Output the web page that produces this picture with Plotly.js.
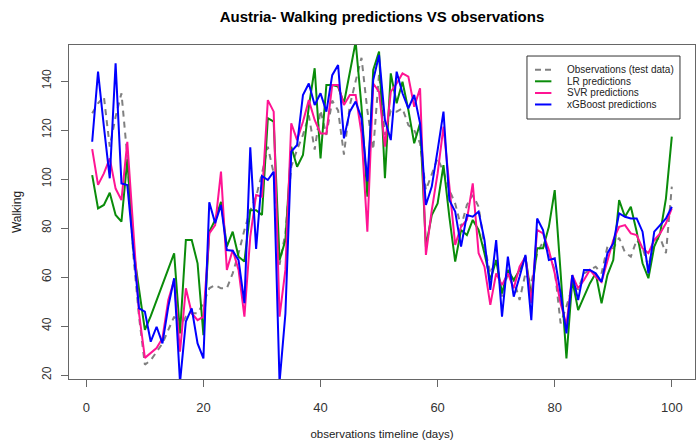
<!DOCTYPE html>
<html>
<head>
<meta charset="utf-8">
<script src="https://cdn.plot.ly/plotly-3.0.1.min.js"></script>
<style>html,body{margin:0;padding:0;background:#fff;}#chart{width:698px;height:443px;}</style>
</head>
<body>
<div id="chart"></div>
<script>
const days = Array.from({length: 100}, (_, i) => i + 1);

const observations = [126.8,130.9,133.6,113.2,125.4,135,109.1,69.7,43.8,24.2,
26,29.5,32.9,38.4,43.8,39.7,43.8,45.2,45.2,49.3,
55.4,56.7,55.4,55.4,61.5,69.7,79.2,87.3,92.8,102.3,
113.2,102.3,65,78,105,112,118,126,112,128,
118,132,128,110,130,140,149.5,128,112,143,
118,128,127.5,128.8,122,120,114.6,95.5,102.3,108.4,
103,95.5,90,80.5,89.4,93.5,88.7,72.4,61.5,66.9,
52,61.5,58.8,50.6,61.5,57.4,69.7,74.4,69.7,62.9,
41.1,47.9,56,55,61.5,62.9,64.2,61.5,72.4,71.7,
76,70,68.3,75.1,72,64.2,75.1,76,69.7,96.9];

const lrPred = [101.6,88,89.4,94.4,85.3,82.6,108,72,55,38.4,
44,50.5,57,63.5,69.7,37,75.1,75.1,65.6,36.3,
78.5,83.3,90.7,72.4,78.5,68.3,66.3,87.3,87.3,85.3,
124.8,123.4,66.9,75,113.2,105,109.8,129.5,145.2,108.4,
138.4,138.4,137.7,130.9,143.1,156,129.5,92.8,144.5,152,
100.3,143.1,130.9,139.7,128.2,114.6,122.7,72.4,85.3,90,
105.7,84.6,66.3,79.2,77.1,83.3,79.2,69.7,58.8,66.9,
53.3,62.9,58.8,62.9,68.3,52,71.7,71.7,80.5,95.5,
62,26.8,58.8,46.5,52,57.4,61.5,49.3,60.8,66.9,
91.4,84.6,88.7,78.5,65.6,59.5,72.4,77.8,92.1,117.3];

const svrPred = [112.2,97.6,102.3,108.4,96.1,91.4,115.2,80.5,45.2,27,
29,31,35,50.6,58.8,29.5,55.4,45.2,42.4,43.8,
77.8,81.2,103,62.9,71,62.9,43.8,76.5,93.5,92.8,
132.2,127.5,43.8,62.9,122.7,115.9,123.4,132.2,124.1,118.6,
118.6,138.4,138.4,130.2,134.3,134.3,118.6,78.5,139,135.6,
113.2,135.6,139,143.1,141.8,129.5,137,69,87.3,102.3,
121.4,96.2,73.1,80.5,83.3,98.2,69.7,64.2,48.6,61.5,
56.7,61.5,55.4,64.2,68.3,49.3,79.2,77.8,71,61.5,
49.3,40.4,60.8,55.4,58.8,62.9,60.1,58,66.9,75.1,
80.5,81.2,77.8,77.1,71.7,69.7,75.1,77.8,81.9,88];

const xgbPred = [115.2,143.8,121.4,100.3,147.2,98.2,97.5,72.4,47.2,45.9,
33.6,39.7,32.9,47.9,59.5,17,41.8,47.2,32.9,26.8,
90.5,82,89.4,71,70.7,66.9,49.3,112.9,71.5,101.2,
99.6,103,17,45,111.2,113.9,134.3,139,130.2,135,
127.5,142.4,146.5,116.6,127.5,131.6,124.8,99,140.4,150.6,
124.1,115.9,143.8,135,128.8,134.3,122.7,89.4,96.9,111.8,
127.5,91.4,86.7,72.4,85.3,84.6,86.7,75.1,54.7,75.1,
43.8,68.3,52,60.1,69,42.4,83.9,79.2,66.9,67.6,
53.3,37,60.8,50.6,62.9,62.9,61.5,58,69.7,73.7,
86,84.6,83.9,83.9,78.5,61.5,78.5,81.2,83.9,88.7];

const seriesNames = ["Observations (test data)", "LR predictions", "SVR predictions", "xGBoost predictions"];
const seriesColors = ["#808080", "#0a8c0a", "#ff1493", "#0000ff"];
const seriesDash = ["6px,5px", "solid", "solid", "solid"];
const xTicks = [0, 20, 40, 60, 80, 100];
const yTicks = [20, 40, 60, 80, 100, 120, 140];

const FONT = "Liberation Sans, Arial, sans-serif";
const seriesData = [observations, lrPred, svrPred, xgbPred];

const traces = seriesData.map((vals, i) => ({
  x: days, y: vals, name: seriesNames[i], mode: "lines",
  line: {color: seriesColors[i], width: 2, dash: seriesDash[i]}
}));

// Manual R-style legend (box, sample segments, labels) in paper coordinates
const legBox = {x0: 0.7316, x1: 0.976, y0: 0.7784, y1: 0.967};
const legRows = [0.926, 0.8913, 0.8563, 0.8219];
const shapes = [{type: "rect", xref: "paper", yref: "paper",
  x0: legBox.x0, x1: legBox.x1, y0: legBox.y0, y1: legBox.y1,
  line: {color: "#333", width: 1}, fillcolor: "#fff", layer: "above"}];
const annotations = [];
seriesNames.forEach((nm, i) => {
  shapes.push({type: "line", xref: "paper", yref: "paper",
    x0: 0.7444, x1: 0.7706, y0: legRows[i], y1: legRows[i],
    line: {color: seriesColors[i], width: 2, dash: i === 0 ? "6px,4px" : "solid"}, layer: "above"});
  annotations.push({xref: "paper", yref: "paper", x: 0.7923, y: legRows[i],
    xanchor: "left", yanchor: "middle", showarrow: false, text: nm,
    font: {family: FONT, size: 10, color: "#222"}});
});

const layout = {
  width: 698, height: 443,
  margin: {l: 69, r: 3, t: 45, b: 64},
  paper_bgcolor: "#fff", plot_bgcolor: "#fff",
  font: {family: FONT, size: 12, color: "#000"},
  showlegend: false,
  title: {text: "<b>Austria- Walking predictions VS observations</b>",
          font: {family: FONT, size: 15, color: "#000"},
          x: 0.5, xref: "paper", xanchor: "center", y: 0.9616, yref: "container", yanchor: "middle"},
  xaxis: {range: [-2.96, 103.96], tickvals: xTicks, ticktext: xTicks.map(String),
          showgrid: false, zeroline: false, showline: true, mirror: true,
          linecolor: "#666", linewidth: 1, ticks: "outside", ticklen: 7,
          tickcolor: "#666", tickfont: {size: 13, color: "#333"}, ticklabelstandoff: 9,
          title: {text: "observations timeline (days)", font: {size: 11.5, color: "#222"}, standoff: 16}},
  yaxis: {range: [18.37, 154.7], tickvals: yTicks, ticktext: yTicks.map(String),
          showgrid: false, zeroline: false, showline: true, mirror: true,
          linecolor: "#666", linewidth: 1, ticks: "outside", ticklen: 7,
          tickcolor: "#666", tickangle: -90, tickfont: {size: 12, color: "#333"}, ticklabelstandoff: 5,
          title: {text: "Walking", font: {size: 12, color: "#222"}, standoff: 16}},
  shapes: shapes,
  annotations: annotations
};

Plotly.newPlot("chart", traces, layout, {displayModeBar: false, staticPlot: true});
</script>
</body>
</html>
